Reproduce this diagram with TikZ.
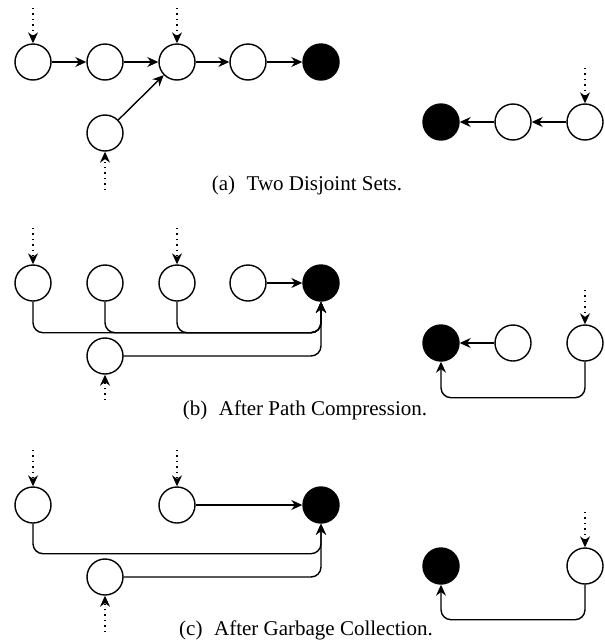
\documentclass[tikz,border=0pt]{standalone}
\usepackage{fontspec}
\setmainfont{Liberation Serif}
\usetikzlibrary{arrows.meta}
\begin{document}
\begin{tikzpicture}[x=0.5pt,y=-0.5pt,
  vtx/.style={circle,draw,line width=0.7pt,minimum size=18pt,inner sep=0pt},
  root/.style={vtx,fill=black},
  link/.style={-{Stealth[length=5.5pt,width=5pt,inset=1.8pt]},line width=0.7pt},
  ptr/.style={link,dotted},
  route/.style={link,rounded corners=5pt},
  subcap/.style={font=\fontsize{10.5}{12}\selectfont,inner sep=0pt}]
\useasboundingbox (0,0) rectangle (605,643);

% ---------- (a) two disjoint sets ----------
\node[vtx]  (a1) at (33,62) {};
\node[vtx]  (a2) at (105,62) {};
\node[vtx]  (a3) at (177,62) {};
\node[vtx]  (a4) at (248,62) {};
\node[root] (a5) at (321,62) {};
\node[vtx]  (ab) at (105,133) {};
\coordinate (pa1) at (33,8);
\coordinate (pa3) at (177,8);
\coordinate (pab) at (105,190);
\draw[ptr] (pa1) -- (a1);
\draw[ptr] (pa3) -- (a3);
\draw[ptr] (pab) -- (ab);
\draw[link] (a1) -- (a2);
\draw[link] (a2) -- (a3);
\draw[link] (a3) -- (a4);
\draw[link] (a4) -- (a5);
\draw[link] (ab) -- (a3);

\node[root] (r1) at (441,122) {};
\node[vtx]  (r2) at (513,122) {};
\node[vtx]  (r3) at (585,122) {};
\coordinate (pr3) at (585,68);
\draw[ptr] (pr3) -- (r3);
\draw[link] (r3) -- (r2);
\draw[link] (r2) -- (r1);

\node[subcap] (capa) at (307,185) {(a)\hspace{0.55em}Two Disjoint Sets.};

% ---------- (b) after path compression ----------
\node[vtx]  (b1) at (33,283) {};
\node[vtx]  (b2) at (105,283) {};
\node[vtx]  (b3) at (177,283) {};
\node[vtx]  (b4) at (248,283) {};
\node[root] (b5) at (321,283) {};
\node[vtx]  (bb) at (105,356) {};
\coordinate (pb1) at (33,228);
\coordinate (pb3) at (177,228);
\coordinate (pbb) at (105,400);
\draw[ptr] (pb1) -- (b1);
\draw[ptr] (pb3) -- (b3);
\draw[ptr] (pbb) -- (bb);
\draw[route] (b1.south) -- ++(0,31) -| (b5.south);
\draw[route] (b2.south) -- ++(0,31) -| (b5.south);
\draw[route] (b3.south) -- ++(0,31) -| (b5.south);
\draw[route] (bb.east) -| (b5.south);
\draw[link] (b4) -- (b5);

\node[root] (s1) at (441,343) {};
\node[vtx]  (s2) at (513,343) {};
\node[vtx]  (s3) at (585,343) {};
\coordinate (ps3) at (585,290);
\draw[ptr] (ps3) -- (s3);
\draw[link] (s2) -- (s1);
\draw[route] (s3.south) -- ++(0,36) -| (s1.south);

\node[subcap] (capb) at (305,410) {(b)\hspace{0.55em}After Path Compression.};

% ---------- (c) after garbage collection ----------
\node[vtx]  (c1) at (33,505) {};
\node[vtx]  (c3) at (177,505) {};
\node[root] (c5) at (321,505) {};
\node[vtx]  (cb) at (105,577) {};
\coordinate (pc1) at (33,450);
\coordinate (pc3) at (177,450);
\coordinate (pcb) at (105,632);
\draw[ptr] (pc1) -- (c1);
\draw[ptr] (pc3) -- (c3);
\draw[ptr] (pcb) -- (cb);
\draw[route] (c1.south) -- ++(0,30) -| (c5.south);
\draw[route] (cb.east) -| (c5.south);
\draw[link] (c3) -- (c5);

\node[root] (t1) at (441,566) {};
\node[vtx]  (t3) at (585,566) {};
\coordinate (pt3) at (585,512);
\draw[ptr] (pt3) -- (t3);
\draw[route] (t3.south) -- ++(0,35) -| (t1.south);

\node[subcap] (capc) at (306,630) {(c)\hspace{0.55em}After Garbage Collection.};
\end{tikzpicture}
\end{document}
